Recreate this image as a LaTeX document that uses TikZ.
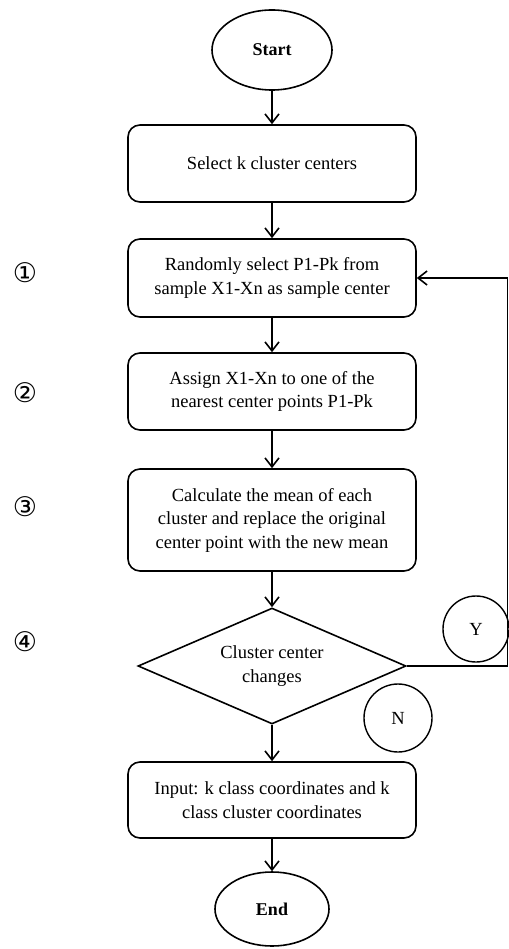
\documentclass[tikz,border=0pt]{standalone}
\usepackage{fontspec}
\setmainfont{Liberation Serif}
\newfontfamily\circfont{DejaVu Sans}
\usetikzlibrary{shapes.geometric,arrows.meta}
\begin{document}
\begin{tikzpicture}[x=1pt, y=-1pt, line width=1.6pt, >={Straight Barb[length=9pt,width=14pt]},
  step box/.style={rectangle,rounded corners=12pt,draw,minimum width=288pt,inner sep=0pt,align=center},
  term node/.style={ellipse,draw,inner sep=0pt,font=\fontsize{18}{23.5}\selectfont\bfseries},
  mark node/.style={circle,draw,minimum size=66pt,inner sep=0pt,line width=1.4pt},
  num node/.style={font=\circfont\fontsize{27}{27}\selectfont,inner sep=0pt}]
\useasboundingbox (0,0) rectangle (508,949);
\begin{scope}[every node/.style={font=\fontsize{18.5}{23.5}\selectfont}]
\node [term node,minimum width=120pt,minimum height=80pt](start) at (272,50) {Start};
\node [step box,minimum height=77pt](sel) at (272,163.5) {Select k cluster centers};
\node [step box,minimum height=78pt](rnd) at (272,278) {Randomly select P1-Pk from\\sample X1-Xn as sample center};
\node [step box,minimum height=77pt](asg) at (272,391.5) {Assign X1-Xn to one of the\\nearest center points P1-Pk};
\node [step box,minimum height=102pt](calc) at (272,520) {Calculate the mean of each\\cluster and replace the original\\center point with the new mean};
\node [diamond,draw,aspect=2.3,inner sep=0pt,minimum width=268pt,minimum height=116pt,align=center](chg) at (272,666) {Cluster center\\changes};
\node [step box,minimum height=76pt](inp) at (272,800) {Input: k class coordinates and k\\class cluster coordinates};
\node [term node,minimum width=114pt,minimum height=74pt](end) at (272,909) {End};
\node [mark node](yes) at (476,629) {Y};
\node [mark node,minimum size=68pt](no) at (398,718) {N};
\end{scope}
\node [num node](n1) at (25,273) {①};
\node [num node](n2) at (25,393) {②};
\node [num node](n3) at (25,507) {③};
\node [num node](n4) at (25,642) {④};
\coordinate (back) at (507.5,666);
\path [->]
    (start) edge (sel)
    (sel) edge (rnd)
    (rnd) edge (asg)
    (asg) edge (calc)
    (calc) edge (chg)
    (chg) edge (inp)
    (inp) edge (end)
         ;
\draw [->] (chg.east) -- (back) |- (rnd.east);
\end{tikzpicture}
\end{document}
